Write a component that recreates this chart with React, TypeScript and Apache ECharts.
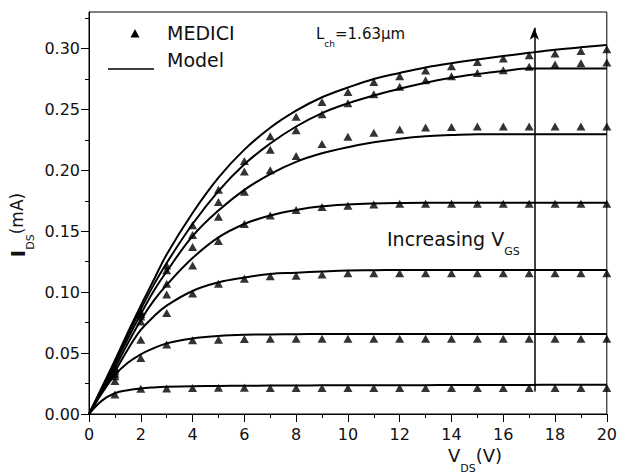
import React, { useEffect, useRef } from 'react';
import * as echarts from 'echarts';

const V_MODEL = [0, 0.5, 1, 1.5, 2, 2.5, 3, 4, 5, 6, 7, 8, 9, 10, 11, 12, 13, 14, 15, 16, 17, 18, 19, 20];
const MODEL_1 = [0, 0.011, 0.017, 0.0195, 0.021, 0.0218, 0.0223, 0.0228, 0.023, 0.0232, 0.0233, 0.0234, 0.0235, 0.0236, 0.0236, 0.0237, 0.0237, 0.0238, 0.0238, 0.0239, 0.0239, 0.024, 0.024, 0.024];
const MODEL_2 = [0, 0.017, 0.032, 0.042, 0.049, 0.054, 0.058, 0.062, 0.064, 0.065, 0.0653, 0.0655, 0.0656, 0.0656, 0.0656, 0.0656, 0.0656, 0.0656, 0.0656, 0.0656, 0.0656, 0.0656, 0.0656, 0.0656];
const MODEL_3 = [0, 0.018, 0.035, 0.053, 0.069, 0.08, 0.089, 0.101, 0.108, 0.112, 0.115, 0.116, 0.117, 0.1178, 0.118, 0.1182, 0.1183, 0.1183, 0.1183, 0.1183, 0.1183, 0.1183, 0.1183, 0.1183];
const MODEL_4 = [0, 0.019, 0.038, 0.058, 0.077, 0.093, 0.106, 0.128, 0.145, 0.156, 0.163, 0.1675, 0.1705, 0.172, 0.1728, 0.1732, 0.1734, 0.1734, 0.1734, 0.1734, 0.1734, 0.1734, 0.1734, 0.1734];
const MODEL_5 = [0, 0.02, 0.041, 0.062, 0.082, 0.101, 0.117, 0.146, 0.167, 0.184, 0.197, 0.207, 0.214, 0.219, 0.223, 0.226, 0.228, 0.229, 0.2297, 0.2297, 0.2297, 0.2297, 0.2297, 0.2297];
const MODEL_6 = [0, 0.021, 0.043, 0.065, 0.086, 0.106, 0.124, 0.156, 0.183, 0.205, 0.222, 0.236, 0.247, 0.255, 0.2615, 0.267, 0.272, 0.276, 0.279, 0.2815, 0.2836, 0.2836, 0.2836, 0.2836];
const MODEL_7 = [0, 0.022, 0.044, 0.067, 0.089, 0.11, 0.131, 0.165, 0.194, 0.217, 0.235, 0.249, 0.26, 0.268, 0.275, 0.28, 0.2845, 0.288, 0.291, 0.2938, 0.2965, 0.299, 0.301, 0.303];

const V_MEDICI = [1, 2, 3, 4, 5, 6, 7, 8, 9, 10, 11, 12, 13, 14, 15, 16, 17, 18, 19, 20];
const MEDICI_1 = [0.016, 0.0207, 0.021, 0.0213, 0.0215, 0.0215, 0.0214, 0.0214, 0.0214, 0.0214, 0.0214, 0.0214, 0.0214, 0.0214, 0.0214, 0.0214, 0.0214, 0.0214, 0.0214, 0.0214];
const MEDICI_2 = [0.027, 0.046, 0.057, 0.0605, 0.061, 0.0615, 0.0617, 0.0617, 0.0617, 0.0617, 0.0617, 0.0617, 0.0617, 0.0617, 0.0617, 0.0617, 0.0617, 0.0617, 0.0617, 0.0617];
const MEDICI_3 = [0.031, 0.061, 0.083, 0.099, 0.107, 0.111, 0.113, 0.1135, 0.1145, 0.1155, 0.1155, 0.1155, 0.1155, 0.1155, 0.1155, 0.1155, 0.1155, 0.1155, 0.1155, 0.1155];
const MEDICI_4 = [0.033, 0.076, 0.098, 0.122, 0.142, 0.156, 0.163, 0.1675, 0.17, 0.171, 0.172, 0.1725, 0.1725, 0.1725, 0.1725, 0.1725, 0.1725, 0.1725, 0.1725, 0.1725];
const MEDICI_5 = [0.035, 0.08, 0.107, 0.137, 0.162, 0.1825, 0.2, 0.2117, 0.2216, 0.2275, 0.2308, 0.2336, 0.2352, 0.2355, 0.236, 0.236, 0.236, 0.236, 0.236, 0.236];
const MEDICI_6 = [0.037, 0.082, 0.118, 0.147, 0.174, 0.199, 0.217, 0.233, 0.246, 0.255, 0.2625, 0.2686, 0.274, 0.2773, 0.28, 0.2822, 0.285, 0.287, 0.288, 0.2886];
const MEDICI_7 = [0.038, 0.084, 0.122, 0.155, 0.184, 0.2076, 0.228, 0.244, 0.2562, 0.2644, 0.2726, 0.2773, 0.282, 0.2855, 0.289, 0.2918, 0.2945, 0.2959, 0.298, 0.2994];

const MODELS = [MODEL_1, MODEL_2, MODEL_3, MODEL_4, MODEL_5, MODEL_6, MODEL_7];
const MEDICIS = [MEDICI_1, MEDICI_2, MEDICI_3, MEDICI_4, MEDICI_5, MEDICI_6, MEDICI_7];

const Y_MAJOR = [0, 0.05, 0.1, 0.15, 0.2, 0.25, 0.3];
const Y_MINOR = [0.025, 0.075, 0.125, 0.175, 0.225, 0.275, 0.325];
const ARROW_V = 17.2;
const ARROW_FROM = 0.0185;
const ARROW_TO = 0.317;

const FONT = "'DejaVu Sans', sans-serif";
const INK = '#111';

export default function App() {
  const ref = useRef<HTMLDivElement>(null);
  useEffect(() => {
    if (!ref.current) return;
    const chart = echarts.init(ref.current, undefined, { renderer: 'svg' });
    const series: any[] = [];
    MODELS.forEach((m) => {
      series.push({
        type: 'line',
        name: 'Model',
        data: V_MODEL.map((v, k) => [v, m[k]]),
        symbol: 'none',
        smooth: 0.4,
        clip: true,
        lineStyle: { color: '#000', width: 2 },
        z: 2,
      });
    });
    MEDICIS.forEach((m, i) => {
      series.push({
        type: 'scatter',
        name: 'MEDICI',
        data: V_MEDICI.map((v, k) => [v, m[k]]),
        symbol: 'triangle',
        symbolSize: [9, 8],
        clip: true,
        itemStyle: { color: '#000' },
        z: 3,
        markLine: i === 0 ? {
          silent: true,
          symbol: ['none', 'arrow'],
          symbolSize: [7, 12],
          lineStyle: { color: '#000', width: 1.5, type: 'solid' },
          label: { show: false },
          data: [[{ coord: [ARROW_V, ARROW_FROM] }, { coord: [ARROW_V, ARROW_TO] }]],
        } : undefined,
      });
    });

    const option: any = {
      animation: false,
      backgroundColor: '#fff',
      grid: { left: 89, right: 9, top: 12, bottom: 61, show: true, borderColor: '#000', borderWidth: 1 },
      xAxis: {
        type: 'value', min: 0, max: 20, interval: 2,
        axisLine: { lineStyle: { color: '#000', width: 1 } },
        axisTick: { length: 8, lineStyle: { color: '#000' } },
        minorTick: { show: true, splitNumber: 2, length: 4, lineStyle: { color: '#000' } },
        splitLine: { show: false },
        axisLabel: { fontSize: 16, color: INK, margin: 12, fontFamily: FONT },
      },
      yAxis: [
        {
          type: 'value', min: 0, max: 0.33,
          axisLine: { show: true, lineStyle: { color: '#000', width: 1 } },
          axisTick: { show: true, length: 8, customValues: Y_MAJOR, lineStyle: { color: '#000' } },
          splitLine: { show: false },
          axisLabel: { fontSize: 16, color: INK, margin: 9, fontFamily: FONT, customValues: Y_MAJOR, formatter: (v: number) => v.toFixed(2) },
        },
        {
          type: 'value', min: 0, max: 0.33, position: 'left',
          axisLine: { show: false },
          axisTick: { show: true, length: 4, customValues: Y_MINOR, lineStyle: { color: '#000' } },
          splitLine: { show: false },
          axisLabel: { show: false },
        },
      ],
      series,
      graphic: [
        { type: 'polygon', shape: { points: [[130.5, 37.5], [139.5, 37.5], [135, 29]] }, style: { fill: '#000' } },
        { type: 'line', shape: { x1: 108, y1: 69, x2: 154, y2: 69 }, style: { stroke: '#000', lineWidth: 1.5 } },
        { type: 'text', x: 167, y: 33, style: { text: 'MEDICI', fontSize: 19, fontFamily: FONT, fill: INK, verticalAlign: 'middle' } },
        { type: 'text', x: 167, y: 60, style: { text: 'Model', fontSize: 19, fontFamily: FONT, fill: INK, verticalAlign: 'middle' } },
        {
          type: 'text', x: 316, y: 26,
          style: {
            text: '{n|L}{s|ch}{n|=1.63µm}', fill: INK, fontFamily: FONT,
            rich: {
              n: { fontSize: 15, fontFamily: FONT, lineHeight: 22, verticalAlign: 'top', fill: INK },
              s: { fontSize: 9, fontFamily: FONT, lineHeight: 22, verticalAlign: 'bottom', fill: INK },
            },
          },
        },
        {
          type: 'text', x: 387, y: 229,
          style: {
            text: '{n|Increasing V}{s|GS}', fill: INK, fontFamily: FONT,
            rich: {
              n: { fontSize: 19, fontFamily: FONT, lineHeight: 28, verticalAlign: 'top', fill: INK },
              s: { fontSize: 11, fontFamily: FONT, lineHeight: 28, verticalAlign: 'bottom', fill: INK },
            },
          },
        },
        {
          type: 'text', x: 448, y: 446,
          style: {
            text: '{n|V}{s|DS}{n|(V)}', fill: INK, fontFamily: FONT,
            rich: {
              n: { fontSize: 18, fontFamily: FONT, lineHeight: 28, verticalAlign: 'top', fill: INK },
              s: { fontSize: 11, fontFamily: FONT, lineHeight: 28, verticalAlign: 'bottom', fill: INK },
            },
          },
        },
        {
          type: 'text', x: 22, y: 225, rotation: Math.PI / 2,
          style: {
            text: '{b|I}{s|DS}{n|(mA)}', fill: INK, fontFamily: FONT, align: 'center', verticalAlign: 'middle',
            rich: {
              b: { fontSize: 20, fontWeight: 'bold', fontFamily: FONT, lineHeight: 28, verticalAlign: 'top', fill: INK },
              n: { fontSize: 17, fontFamily: FONT, lineHeight: 28, verticalAlign: 'top', fill: INK },
              s: { fontSize: 11, fontFamily: FONT, lineHeight: 28, verticalAlign: 'bottom', fill: INK },
            },
          },
        },
      ],
    };
    chart.setOption(option);
    return () => chart.dispose();
  }, []);
  return <div ref={ref} style={{ position: 'fixed', left: 0, top: 0, width: 620, height: 475 }} />;
}
